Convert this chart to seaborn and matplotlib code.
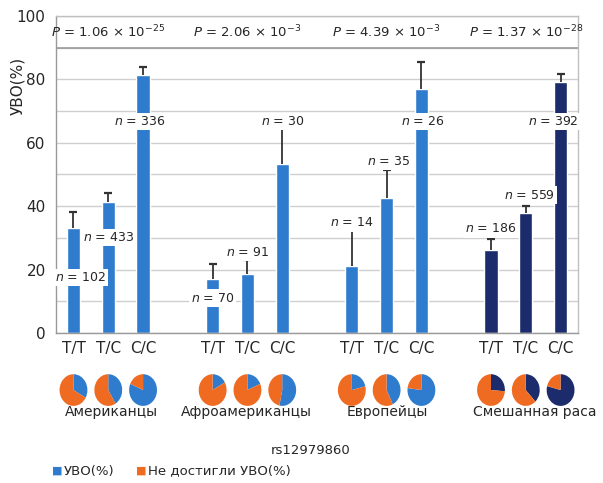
import numpy as np
import pandas as pd
import matplotlib
matplotlib.use('Agg')
import matplotlib.pyplot as plt
import seaborn as sns

groups = ['Американцы', 'Афроамериканцы', 'Европейцы', 'Смешанная раса']
genotypes = ['T/T', 'T/C', 'C/C']
p_values = [('1.06', '-25'), ('2.06', '-3'), ('4.39', '-3'), ('1.37', '-28')]

svr = [33.1, 41.3, 81.4,
       17.0, 18.6, 53.3,
       21.2, 42.7, 77.0,
       26.2, 37.9, 79.0]
err_top = [38.2, 44.2, 83.9,
           21.8, 23.0, 65.5,
           33.1, 51.4, 85.6,
           29.6, 40.1, 81.7]
n_labels = [102, 433, 336, 70, 91, 30, 14, 35, 26, 186, 559, 392]
n_label_y = [17.4, 30.0, 66.6, 11.0, 25.5, 66.6, 34.7, 54.0, 66.6, 32.8, 43.5, 66.6]
n_label_dx = [0.2, 0.0, -0.1, 0.0, 0.0, 0.0, 0.0, 0.05, 0.05, 0.0, 0.1, -0.2]

blue = '#2f7ccf'
navy = '#1b2b6b'
orange = '#f06b22'

pos = [g * 4 + k for g in range(4) for k in range(3)]
df = pd.DataFrame({
    'pos': pos,
    'svr': svr,
    'group': [grp for grp in groups for _ in genotypes],
    'geno': genotypes * 4,
})
df['col'] = np.where(df['group'] == 'Смешанная раса', 'mixed', 'other')

sns.set_style('white')
plt.rcParams['font.family'] = ['DejaVu Sans']

fig = plt.figure(figsize=(6.03, 4.83), dpi=100)
ax = fig.add_axes([0.093, 0.3106, 0.8655, 0.6565])

sns.barplot(data=df, x='pos', y='svr', hue='col', native_scale=True, dodge=False,
            palette={'other': blue, 'mixed': navy}, width=0.38, legend=False,
            saturation=1, errorbar=None, ax=ax, zorder=2)

# one-sided error bars (upwards only), cap only at the top
ax.vlines(df['pos'], df['svr'], err_top, color='#333333', linewidth=1.3, zorder=3)
ax.scatter(df['pos'], err_top, marker='_', s=30, linewidths=1.6, color='#333333', zorder=3)

for x, y, n, dx in zip(df['pos'], n_label_y, n_labels, n_label_dx):
    ax.text(x + dx, y, f'$n$ = {n}', ha='center', va='center', fontsize=9,
            bbox=dict(facecolor='white', edgecolor='none', pad=1.5), zorder=4)

ax.set_xlim(-0.5, 14.5)
ax.set_ylim(0, 100)
ax.set_yticks(range(0, 101, 20))
ax.set_yticks(range(0, 101, 10), minor=True)
ax.grid(axis='y', which='both', color='#cfcfcf', linewidth=1, zorder=0)
ax.set_axisbelow(True)
ax.axhline(90, color='#9a9a9a', linewidth=1.2, zorder=1)
ax.set_xticks(pos)
ax.set_xticklabels(genotypes * 4, fontsize=11)
ax.set_xticks(np.arange(-0.5, 15, 1), minor=True)
ax.tick_params(axis='x', which='major', length=0, pad=6)
ax.tick_params(axis='x', which='minor', length=4, color='#aaaaaa', direction='out')
ax.tick_params(axis='y', which='major', labelsize=11, length=4, color='#aaaaaa')
ax.tick_params(axis='y', which='minor', length=0)
for side in ['top', 'right', 'bottom', 'left']:
    ax.spines[side].set_color('#c0c0c0')
    ax.spines[side].set_linewidth(1)
ax.spines['left'].set_color('#999999')
ax.spines['bottom'].set_color('#999999')
ax.set_xlabel('')
ax.set_ylabel('УВО(%)', fontsize=11)
ax.yaxis.set_label_coords(-0.06, 0.78)

for g, (m, e) in enumerate(p_values):
    ax.text(g * 4 + 1, 95, rf'$P$ = {m} × 10$^{{{e.replace("-", "−")}}}$',
            ha='center', va='center', fontsize=9.5)

# pies under each bar
for x, v, c in zip(df['pos'], df['svr'], df['col']):
    main = navy if c == 'mixed' else blue
    pax = ax.inset_axes([x - 0.4, -0.23, 0.8, 0.1], transform=ax.get_xaxis_transform())
    pax.pie([v, 100 - v], colors=[main, orange], startangle=90, counterclock=False,
            radius=1.0, wedgeprops=dict(linewidth=0))
    pax.set_xlim(-1, 1)
    pax.set_ylim(-1, 1)
    pax.set_aspect('auto')
    pax.axis('off')

group_x = [111, 246, 387, 535]
for gx, name in zip(group_x, groups):
    fig.text(gx / 603, 1 - 412 / 483, name, ha='center', va='center', fontsize=10)

fig.text(311 / 603, 1 - 450 / 483, 'rs12979860', ha='center', va='center', fontsize=9.5)

fig.text(57 / 603, 1 - 471 / 483, '■', color=blue, ha='center', va='center', fontsize=8)
fig.text(64 / 603, 1 - 471 / 483, 'УВО(%)', ha='left', va='center', fontsize=9.5)
fig.text(141 / 603, 1 - 471 / 483, '■', color=orange, ha='center', va='center', fontsize=8)
fig.text(148 / 603, 1 - 471 / 483, 'Не достигли УВО(%)', ha='left', va='center', fontsize=9.5)

fig.savefig('out.png', dpi=100)
